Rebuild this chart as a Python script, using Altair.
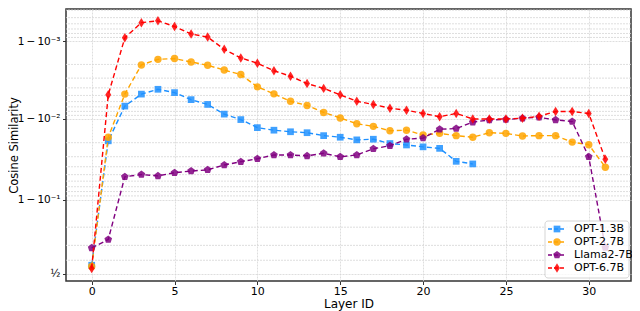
import math
import altair as alt
import pandas as pd

# ---- data (cosine similarity per layer) ----
opt13 = [0.564, 0.98106, 0.99315, 0.99519, 0.99583, 0.99540, 0.99434, 0.99348,
         0.99133, 0.98982, 0.98711, 0.98611, 0.98546, 0.98505, 0.98372, 0.98294,
         0.98158, 0.98192, 0.97951, 0.97863, 0.97743, 0.97642, 0.96575, 0.9631]
opt27 = [0.555, 0.98294, 0.99519, 0.99797, 0.99828, 0.99832, 0.99814, 0.99795,
         0.99764, 0.99730, 0.99612, 0.99523, 0.99406, 0.99328, 0.99175, 0.99030,
         0.98849, 0.98759, 0.98586, 0.98611, 0.98400, 0.98476, 0.98372, 0.98294,
         0.98505, 0.98476, 0.98353, 0.98372, 0.98372, 0.98035, 0.97881, 0.9595]
llama7 = [0.684, 0.7352, 0.9469, 0.9501, 0.9482, 0.9527, 0.9548, 0.9564,
          0.9620, 0.9654, 0.9682, 0.9715, 0.9715, 0.9707, 0.9728, 0.9699,
          0.9715, 0.9761, 0.9782, 0.9819, 0.9825, 0.98649, 0.98675, 0.98903,
          0.98973, 0.98982, 0.99022, 0.99048, 0.98973, 0.98922, 0.9699, 0.6863]
opt67 = [0.541, 0.99509, 0.99909, 0.99942, 0.99945, 0.99935, 0.99919, 0.99911,
         0.99872, 0.99835, 0.99807, 0.99759, 0.99717, 0.99648, 0.99594, 0.99509,
         0.99406, 0.99348, 0.99270, 0.99227, 0.99150, 0.99065, 0.99150, 0.99001,
         0.99001, 0.99001, 0.99022, 0.99076, 0.99197, 0.99197, 0.99150, 0.9678]

names = ["OPT-1.3B", "OPT-2.7B", "Llama2-7B", "OPT-6.7B"]
values = [opt13, opt27, llama7, opt67]

x_ticks = [0, 5, 10, 15, 20, 25, 30]
y_major = [0.5, 0.9, 0.99, 0.999]
y_minor = [0.6, 0.7, 0.8,
           0.91, 0.92, 0.93, 0.94, 0.95, 0.96, 0.97, 0.98,
           0.991, 0.992, 0.993, 0.994, 0.995, 0.996, 0.997, 0.998,
           0.9991, 0.9992, 0.9993, 0.9994, 0.9995, 0.9996]

# ---- styling ----
colors = ["#1E90FF", "#FFA500", "#800080", "#FF0000"]
pentagon = "M0,-1L0.951,-0.309L0.588,0.809L-0.588,0.809L-0.951,-0.309Z"
thin_diamond = "M0,-1L0.62,0L0,1L-0.62,0Z"
shapes = ["square", "circle", pentagon, thin_diamond]
sizes = [45, 55, 65, 90]

rows = []
for name, vals in zip(names, values):
    for i, v in enumerate(vals):
        rows.append({"layer": i, "model": name, "cos": v})
df = pd.DataFrame(rows)

logit = lambda p: math.log10(p / (1 - p))
major_pos = [logit(p) for p in y_major]

W, H = 565, 272
x_scale = alt.Scale(domain=[-1.55, 32.55], nice=False, zero=False)
y_scale = alt.Scale(domain=[-0.091, 3.412], nice=False, zero=False)

label_expr = ("datum.value < 0.5 ? '½' : datum.value < 1.5 ? '1\u2009−\u200910⁻¹' : "
              "datum.value < 2.5 ? '1\u2009−\u200910⁻²' : '1\u2009−\u200910⁻³'")
y_axis = alt.Axis(values=major_pos, labelExpr=label_expr, title="Cosine Similarity",
                  grid=True, tickSize=3.5, labelPadding=2.5,
                  titleX=-52, titleY=H / 2, titleBaseline="middle", titleAlign="center",
                  titleAngle=270, labelFontSize=10.5, titleFontSize=11.5)
x_axis = alt.Axis(values=x_ticks, title="Layer ID", grid=True, tickSize=3.5,
                  labelPadding=0.5, titlePadding=2, labelFontSize=11, titleFontSize=12)

grid_color = "#d6d6d6"

minor_df = pd.DataFrame({"p": y_minor})
minor = alt.Chart(minor_df).transform_calculate(
    logit="log(datum.p/(1-datum.p))/LN10"
).mark_rule(color=grid_color, strokeWidth=0.8, strokeDash=[2, 1]).encode(
    y=alt.Y("logit:Q", scale=y_scale, axis=y_axis)
)

base = alt.Chart(df).transform_calculate(
    logit="log(datum.cos/(1-datum.cos))/LN10"
)

layers = [minor]
for name, col, shp, sz in zip(names, colors, shapes, sizes):
    sub = base.transform_filter(alt.datum.model == name)
    enc = dict(x=alt.X("layer:Q", scale=x_scale, axis=x_axis),
               y=alt.Y("logit:Q", scale=y_scale, axis=y_axis))
    layers.append(sub.mark_line(color=col, strokeDash=[5, 3], strokeWidth=1.4).encode(**enc))
    layers.append(sub.mark_point(shape=shp, size=sz, filled=True, color=col,
                                 opacity=0.85).encode(**enc))

# ---- legend (lower right, drawn in pixel space) ----
one = pd.DataFrame({"k": [0]})
bx0, bx1, by0, by1 = W - 86, W - 2, H - 60, H - 3
layers.append(alt.Chart(one).mark_rect(fill="white", opacity=0.8, stroke="#cccccc",
                                       strokeWidth=1, cornerRadius=3).encode(
    x=alt.value(bx0), x2=alt.value(bx1), y=alt.value(by0), y2=alt.value(by1)))
for i, (name, col, shp, sz) in enumerate(zip(names, colors, shapes, sizes)):
    ry = by0 + 8 + 13 * i
    layers.append(alt.Chart(one).mark_rule(color=col, strokeDash=[4, 2], strokeWidth=1.4).encode(
        x=alt.value(bx0 + 3), x2=alt.value(bx0 + 21), y=alt.value(ry)))
    layers.append(alt.Chart(one).mark_point(shape=shp, size=sz, filled=True, color=col,
                                            opacity=0.85).encode(
        x=alt.value(bx0 + 12), y=alt.value(ry)))
    layers.append(alt.Chart(one).mark_text(align="left", baseline="middle", fontSize=11,
                                           font="DejaVu Sans", color="black").encode(
        x=alt.value(bx0 + 29), y=alt.value(ry), text=alt.value(name)))

chart = alt.layer(*layers).properties(
    width=W, height=H,
    padding={"left": 58, "top": 1, "right": 1, "bottom": 30},
    autosize=alt.AutoSizeParams(type="none"),
).configure_view(
    stroke="#333333", strokeWidth=1.5
).configure_axis(
    labelFont="DejaVu Sans", titleFont="DejaVu Sans",
    titleFontWeight="normal", labelColor="black",
    titleColor="black", tickColor="#333333", domain=False,
    gridColor=grid_color, gridWidth=0.8, gridDash=[2, 1]
)

chart.save("out.html", embed_options={"renderer": "svg", "actions": False})
